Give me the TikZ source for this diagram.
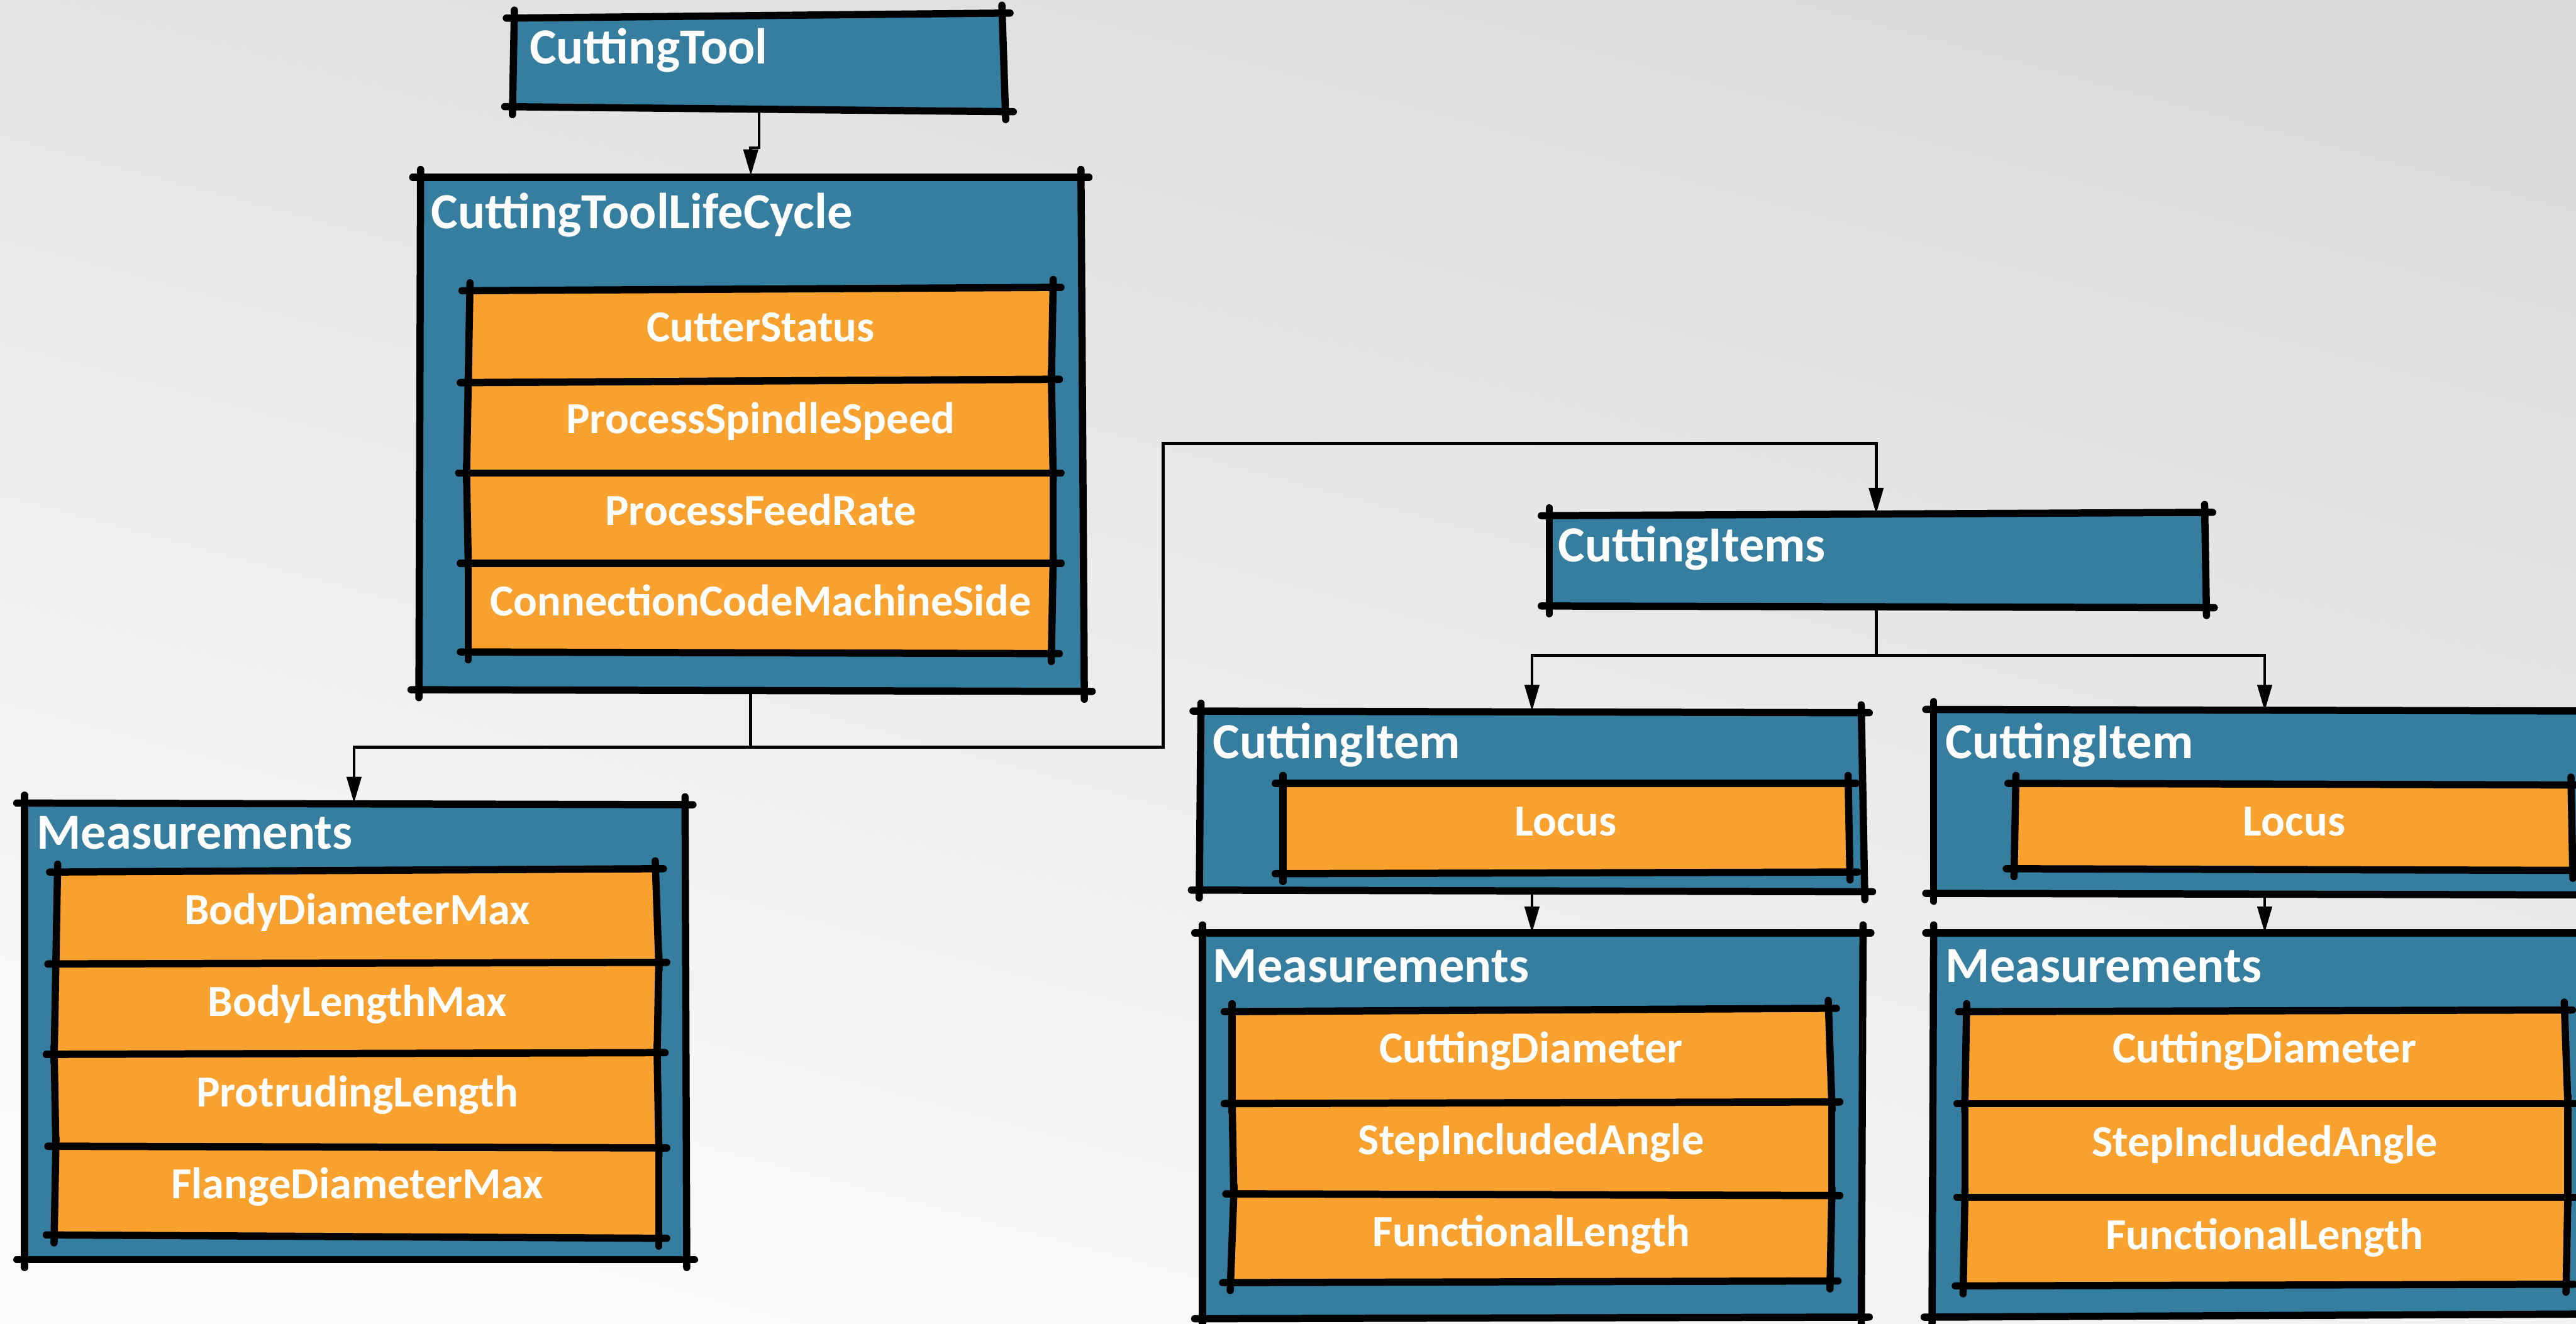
\documentclass[tikz,border=0pt]{standalone}
\usepackage{fontspec}
\setmainfont{Carlito}
\usetikzlibrary{arrows.meta,calc,fit}

\definecolor{boxblue}{RGB}{54,126,160}
\definecolor{boxorange}{RGB}{249,161,46}
\definecolor{bgdark}{RGB}{219,219,219}
\definecolor{bglight}{RGB}{251,251,251}

\tikzset{
  skedge/.style={line width=2.2pt, line cap=round, black},
  conn/.style={line width=0.9pt, black},
  arr/.style={conn, -{Triangle[length=8pt,width=4.4pt]}},
  frame/.style={inner sep=0pt, outer sep=0pt},
  title/.style={anchor=base west, inner sep=0pt, text=white,
    font=\bfseries\fontsize{15.4}{18}\selectfont},
  itemtext/.style={anchor=base, inner sep=0pt, text=white,
    font=\bfseries\fontsize{13.5}{16}\selectfont},
}

% hand-drawn quadrilateral: fill, then each edge as its own stroke running a bit past the corners
\newcommand\overshoot{2.4pt}
\newcommand\sketchquad[5]{%
  \fill[#1] #2 -- #3 -- #4 -- #5 -- cycle;
  \draw[skedge] ($#2!-\overshoot!#3$) -- ($#3!-\overshoot!#2$);
  \draw[skedge] ($#3!-\overshoot!#4$) -- ($#4!-\overshoot!#3$);
  \draw[skedge] ($#4!-\overshoot!#5$) -- ($#5!-\overshoot!#4$);
  \draw[skedge] ($#5!-\overshoot!#2$) -- ($#2!-\overshoot!#5$);
}
% attribute row: named frame plus its centred label
\newcommand\attrrow[4]{%
  \node[frame, fit={#2 #3}] (#1) {};
  \node[itemtext] (#1-t) at ($(#1.north)+(0,32)$) {#4};
}

\begin{document}
\begin{tikzpicture}[x=0.5pt,y=-0.5pt]
\useasboundingbox (0,0) rectangle (1568,806);
\clip (0,0) rectangle (1568,806);
\shade[top color=bgdark, bottom color=bglight, shading angle=-15] (0,0) rectangle (1568,806);

% frames of the classes
\node[frame, fit={(312,8) (612,68)}] (ct) {};
\node[frame, fit={(254,107) (660,421)}] (ctlc) {};
\node[frame, fit={(13,489) (418,767)}] (meas1) {};
\node[frame, fit={(942,313) (1342,370)}] (citems) {};
\node[frame, fit={(730,433) (1135,543)}] (ci1) {};
\node[frame, fit={(1176,433) (1581,545)}] (ci2) {};
\node[frame, fit={(731,568) (1134,803)}] (m2) {};
\node[frame, fit={(1176,568) (1581,803)}] (m3) {};

% outer boxes
\sketchquad{boxblue}{(313,11)}{(610,8)}{(612,68)}{(312,65)}
\sketchquad{boxblue}{(256,108)}{(658,108)}{(660,421)}{(255,420)}
\sketchquad{boxblue}{(15,489)}{(417,490)}{(418,767)}{(15,767)}
\sketchquad{boxblue}{(943,314)}{(1342,312)}{(1343,370)}{(943,369)}
\sketchquad{boxblue}{(731,433)}{(1133,434)}{(1135,543)}{(730,542)}
\sketchquad{boxblue}{(1177,432)}{(1600,433)}{(1600,545)}{(1177,544)}
\sketchquad{boxblue}{(732,568)}{(1134,568)}{(1133,802)}{(732,803)}
\sketchquad{boxblue}{(1177,568)}{(1600,568)}{(1600,800)}{(1176,802)}

% attribute rows of CuttingToolLifeCycle
\sketchquad{boxorange}{(286,177)}{(641,175)}{(640,231)}{(285,233)}
\sketchquad{boxorange}{(285,233)}{(640,231)}{(641,288)}{(284,288)}
\sketchquad{boxorange}{(284,288)}{(641,288)}{(641,343)}{(285,343)}
\sketchquad{boxorange}{(285,343)}{(641,343)}{(640,398)}{(285,397)}

% attribute rows of the tool Measurements
\sketchquad{boxorange}{(35,531)}{(399,529)}{(401,586)}{(34,587)}
\sketchquad{boxorange}{(34,587)}{(401,586)}{(400,641)}{(33,642)}
\sketchquad{boxorange}{(33,642)}{(400,641)}{(401,699)}{(34,698)}
\sketchquad{boxorange}{(34,698)}{(401,699)}{(401,754)}{(33,752)}

% Locus rows
\sketchquad{boxorange}{(781,477)}{(1125,477)}{(1126,531)}{(781,532)}
\sketchquad{boxorange}{(1227,477)}{(1565,478)}{(1566,530)}{(1226,529)}

% attribute rows of the item Measurements
\sketchquad{boxorange}{(750,616)}{(1113,614)}{(1115,671)}{(750,672)}
\sketchquad{boxorange}{(750,672)}{(1115,671)}{(1115,728)}{(751,727)}
\sketchquad{boxorange}{(751,727)}{(1115,728)}{(1114,780)}{(749,781)}
\sketchquad{boxorange}{(1197,616)}{(1561,615)}{(1563,672)}{(1196,672)}
\sketchquad{boxorange}{(1196,672)}{(1563,672)}{(1563,729)}{(1196,729)}
\sketchquad{boxorange}{(1196,729)}{(1563,729)}{(1562,782)}{(1195,783)}

% class names
\node[title] (ct-t) at (322,39) {CuttingTool};
\node[title] (ctlc-t) at (262,139) {CuttingToolLifeCycle};
\node[title] (meas1-t) at (22,517) {Measurements};
\node[title] (citems-t) at (948,342) {CuttingItems};
\node[title] (ci1-t) at (738,462) {CuttingItem};
\node[title] (ci2-t) at (1184,462) {CuttingItem};
\node[title] (m2-t) at (738,598) {Measurements};
\node[title] (m3-t) at (1184,598) {Measurements};

% attributes
\attrrow{ctlc-1}{(284,176)}{(642,232)}{CutterStatus}
\attrrow{ctlc-2}{(284,232)}{(642,288)}{ProcessSpindleSpeed}
\attrrow{ctlc-3}{(284,288)}{(642,343)}{ProcessFeedRate}
\attrrow{ctlc-4}{(284,343)}{(642,397)}{ConnectionCodeMachineSide}

\attrrow{meas1-1}{(33,531)}{(402,587)}{BodyDiameterMax}
\attrrow{meas1-2}{(33,587)}{(402,642)}{BodyLengthMax}
\attrrow{meas1-3}{(33,642)}{(402,698)}{ProtrudingLength}
\attrrow{meas1-4}{(33,698)}{(402,752)}{FlangeDiameterMax}

\attrrow{ci1-1}{(781,477)}{(1125,531)}{Locus}
\attrrow{ci2-1}{(1227,477)}{(1566,530)}{Locus}

\attrrow{m2-1}{(749,615)}{(1115,671)}{CuttingDiameter}
\attrrow{m2-2}{(749,671)}{(1115,727)}{StepIncludedAngle}
\attrrow{m2-3}{(749,727)}{(1115,781)}{FunctionalLength}
\attrrow{m3-1}{(1195,615)}{(1562,672)}{CuttingDiameter}
\attrrow{m3-2}{(1195,672)}{(1562,729)}{StepIncludedAngle}
\attrrow{m3-3}{(1195,729)}{(1562,782)}{FunctionalLength}

% connectors
\coordinate (bend) at (708,270);
\draw[arr] (ct.south) -- ++(0,22) -| (ctlc.north);
\draw[arr] (ctlc.south) -- ++(0,34) -| (meas1.north);
\draw[arr] (ctlc.south) -- ++(0,34) -| (bend) -| (citems.north);
\draw[arr] (citems.south) -- ++(0,29) -| (ci1.north);
\draw[arr] (citems.south) -- ++(0,29) -| (ci2.north);
\draw[arr] (ci1.south) -- (m2.north);
\draw[arr] (ci2.south) -- (m3.north);
\end{tikzpicture}
\end{document}
